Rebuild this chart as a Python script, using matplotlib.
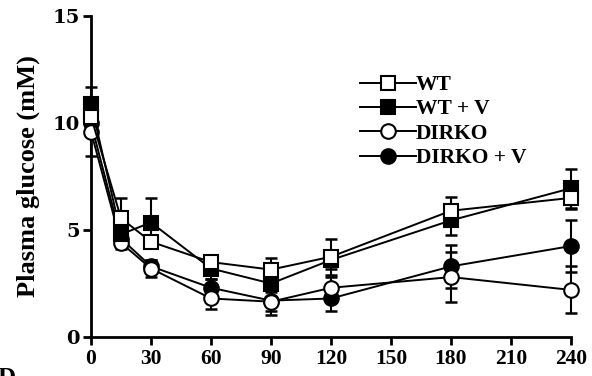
import matplotlib
matplotlib.use("Agg")
import matplotlib.pyplot as plt

times = [0, 15, 30, 60, 90, 120, 180, 240]
wt = [10.3, 5.55, 4.45, 3.5, 3.15, 3.75, 5.9, 6.5]
wt_err = [0.6, 0.95, 0.3, 0.3, 0.55, 0.85, 0.65, 0.5]
wtv = [10.9, 4.8, 5.35, 3.2, 2.5, 3.6, 5.45, 6.95]
wtv_err = [0.8, 0.4, 1.15, 0.5, 0.4, 0.4, 0.7, 0.9]
dirko = [9.6, 4.4, 3.2, 1.8, 1.65, 2.3, 2.8, 2.2]
dirko_err = [1.15, 0.3, 0.4, 0.5, 0.6, 0.5, 1.15, 1.1]
dirkov = [10.0, 4.6, 3.3, 2.3, 1.7, 1.8, 3.3, 4.25]
dirkov_err = [0.6, 0.35, 0.3, 0.4, 0.5, 0.6, 1.0, 1.2]

labels = ["WT", "WT + V", "DIRKO", "DIRKO + V"]
xticks = [0, 30, 60, 90, 120, 150, 180, 210, 240]
yticks = [0, 5, 10, 15]

plt.rcParams['font.family'] = ['Liberation Serif', 'DejaVu Serif']
plt.rcParams['font.weight'] = 'bold'

fig = plt.figure(figsize=(5.92, 3.76), dpi=100)
ax = fig.add_axes([91/592, 1-337/376, 480/592, 321/376])

series = [
    (dirkov, dirkov_err, 'o', 'black', labels[3]),
    (dirko, dirko_err, 'o', 'white', labels[2]),
    (wtv, wtv_err, 's', 'black', labels[1]),
    (wt, wt_err, 's', 'white', labels[0]),
]
handles = {}
for vals, err, mk, fc, lab in series:
    ax.errorbar(times, vals, yerr=err, fmt='none', ecolor='black',
                elinewidth=1.5, capsize=4.5, capthick=1.8, zorder=2, clip_on=False)
    ln, = ax.plot(times, vals, color='black', lw=1.4, marker=mk, ms=10 if mk == 's' else 10.5,
                  mfc=fc, mec='black', mew=1.5, zorder=3, clip_on=False, label=lab)
    handles[lab] = ln

ax.set_xlim(0, 240)
ax.set_ylim(0, 15)
ax.set_xticks(xticks)
ax.set_yticks(yticks)
ax.tick_params(axis='both', direction='out', length=6, width=2)
ax.tick_params(axis='x', labelsize=15.5, pad=3)
ax.tick_params(axis='y', labelsize=14, pad=2)
for s in ['top', 'right']:
    ax.spines[s].set_visible(False)
for s in ['left', 'bottom']:
    ax.spines[s].set_linewidth(2)
for lbl in ax.get_xticklabels():
    lbl.set_fontweight('bold')
for lbl in ax.get_yticklabels():
    lbl.set_fontweight('bold')
    lbl.set_family(['DejaVu Serif'])

ax.set_ylabel("Plasma glucose (mM)", fontsize=19, fontweight='bold', labelpad=9)

leg = ax.legend([handles[l] for l in labels], labels, loc='upper left',
                bbox_to_anchor=(0.542, 0.843), frameon=False, fontsize=15.5,
                handlelength=2.6, handletextpad=0.0, labelspacing=0.2,
                borderaxespad=0)
for t in leg.get_texts():
    t.set_fontweight('bold')

fig.text(-0.004, -0.025, "D", fontsize=18, fontweight='bold')

fig.savefig("out.png", dpi=100)
